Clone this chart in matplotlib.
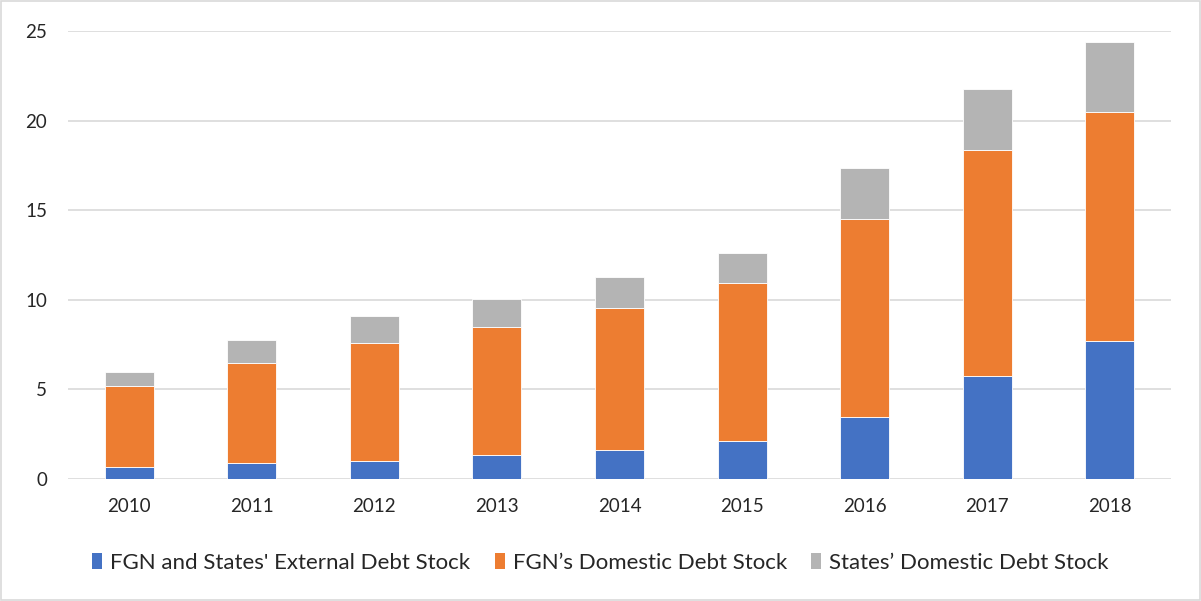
import matplotlib
matplotlib.use("Agg")
import matplotlib.pyplot as plt
from matplotlib.patches import Rectangle, Patch
import numpy as np

years = ["2010", "2011", "2012", "2013", "2014", "2015", "2016", "2017", "2018"]
external = [0.67, 0.87, 1.00, 1.36, 1.63, 2.10, 3.47, 5.76, 7.71]
fgn_domestic = [4.53, 5.62, 6.57, 7.13, 7.91, 8.85, 11.05, 12.61, 12.78]
states_domestic = [0.78, 1.26, 1.53, 1.55, 1.71, 1.67, 2.86, 3.38, 3.92]

labels = ["FGN and States' External Debt Stock",
          "FGN\u2019s Domestic Debt Stock",
          "States\u2019 Domestic Debt Stock"]
colors = ["#4472C4", "#ED7D31", "#B4B4B4"]

plt.rcParams['font.family'] = ['Lato', 'DejaVu Sans']

fig = plt.figure(figsize=(12.01, 6.01), dpi=100)
ax = fig.add_axes([68/1201, 1-479/601, (1171-68)/1201, (479-31)/601])

x = np.arange(len(years))
w = 0.4
ax.bar(x, external, w, color=colors[0], edgecolor='white', linewidth=0.6, zorder=3)
ax.bar(x, fgn_domestic, w, bottom=external, color=colors[1], edgecolor='white', linewidth=0.6, zorder=3)
bottom3 = np.array(external) + np.array(fgn_domestic)
ax.bar(x, states_domestic, w, bottom=bottom3, color=colors[2], edgecolor='white', linewidth=0.6, zorder=3)

ax.set_xlim(-0.5, len(years) - 0.5)
ax.set_ylim(0, 25)
ax.set_yticks([0, 5, 10, 15, 20, 25])
ax.set_xticks(x)
ax.set_xticklabels(years)
ax.grid(axis='y', color='#D9D9D9', linewidth=1.2, zorder=0)
for s in ax.spines.values():
    s.set_visible(False)
ax.tick_params(axis='both', length=0, labelsize=13.5, colors='#262626')
ax.tick_params(axis='x', pad=14)
ax.tick_params(axis='y', pad=15)

handles = [Patch(facecolor=c) for c in colors]
fig.legend(handles, labels, loc='center', bbox_to_anchor=(0.5, 1-563/601), ncol=3,
           frameon=False, fontsize=16, handlelength=0.45, handleheight=0.75,
           handletextpad=0.35, columnspacing=1.1, labelcolor='#262626')

fig.patches.append(Rectangle((0.001, 0.001), 0.998, 0.998, transform=fig.transFigure,
                             fill=False, edgecolor='#D9D9D9', linewidth=1.2))

fig.savefig("out.png", dpi=100)
